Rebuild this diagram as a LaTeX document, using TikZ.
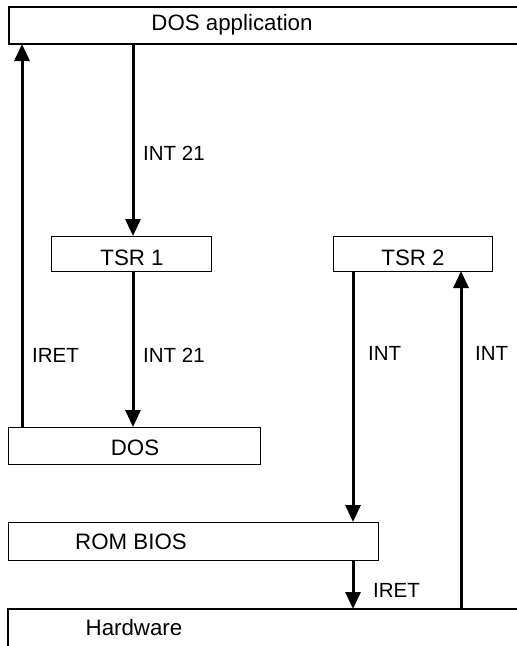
\documentclass[tikz,border=0pt]{standalone}
\usepackage{fontspec}
\setmainfont{Liberation Sans}
\usetikzlibrary{arrows.meta}
\begin{document}
\begin{tikzpicture}[x=1pt,y=-1pt,
  box/.style={draw, line width=1.1pt, inner sep=0pt, anchor=north west},
  txt/.style={font=\fontsize{22.3}{26}\selectfont, inner sep=0pt, anchor=base},
  lbl/.style={font=\fontsize{20.5}{24}\selectfont, inner sep=0pt, anchor=base west},
  flow/.style={line width=3pt, -{Triangle[width=15pt,length=17pt]}}]
\useasboundingbox (0,0) rectangle (517,646);
\fill[white] (0,0) rectangle (517,646);

% open boxes
\coordinate (appTL) at (9,7);
\coordinate (appBL) at (9,44);
\draw[line width=1.1pt] (517,7) -- (appTL) -- (appBL) -- (517,44);
\node[txt] (app) at (232,30) {DOS application};

\coordinate (hwTL) at (8,609);
\draw[line width=1.1pt] (8,646) -- (hwTL) -- (517,609);
\node[txt] (hw) at (134,635) {Hardware};

% closed boxes
\node[box, minimum width=160pt, minimum height=35pt] (tsr1) at (51,236) {};
\node[txt] (tsr1t) at (132,265) {TSR 1};
\node[box, minimum width=159pt, minimum height=35pt] (tsr2) at (333,236) {};
\node[txt] (tsr2t) at (413,265) {TSR 2};
\node[box, minimum width=252pt, minimum height=37pt] (dos) at (8,427) {};
\node[txt] (dost) at (135,455) {DOS};
\node[box, minimum width=370pt, minimum height=38pt] (bios) at (8,522) {};
\node[txt] (biost) at (131,549) {ROM BIOS};

% connector end points
\coordinate (a1s) at (133,44);
\coordinate (a1e) at (133,236);
\coordinate (a2s) at (133,271);
\coordinate (a2e) at (133,427);
\coordinate (a3s) at (22,427);
\coordinate (a3e) at (22,44);
\coordinate (a4s) at (353,271);
\coordinate (a4e) at (353,522);
\coordinate (a5s) at (353,560);
\coordinate (a5e) at (353,609);
\coordinate (a6s) at (461,609);
\coordinate (a6e) at (461,271);

\draw[flow] (a1s) -- (a1e);
\draw[flow] (a2s) -- (a2e);
\draw[flow] (a3s) -- (a3e);
\draw[flow] (a4s) -- (a4e);
\draw[flow] (a5s) -- (a5e);
\draw[flow] (a6s) -- (a6e);

% labels
\node[lbl] (l1) at (143,160) {INT 21};
\node[lbl] (l2) at (143,362) {INT 21};
\node[lbl] (l3) at (32,362) {IRET};
\node[lbl] (l4) at (368,360) {INT};
\node[lbl] (l5) at (475,360) {INT};
\node[lbl] (l6) at (373,597) {IRET};
\end{tikzpicture}
\end{document}
